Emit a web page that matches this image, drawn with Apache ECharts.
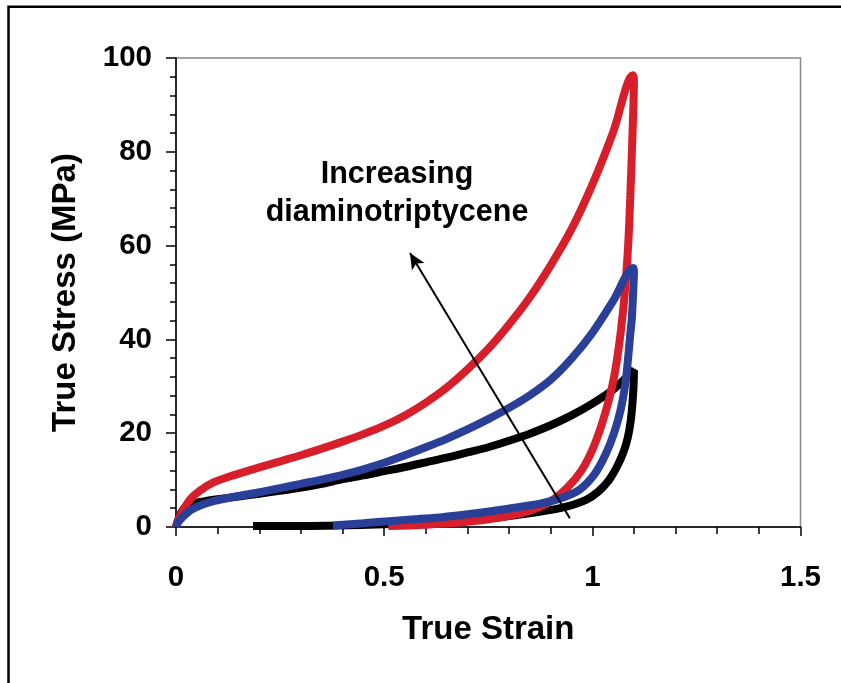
<!DOCTYPE html>
<html><head><meta charset="utf-8">
<script src="https://cdn.jsdelivr.net/npm/echarts@6/dist/echarts.min.js"></script>
<style>html,body{margin:0;padding:0;background:#fff}#c{width:841px;height:683px}</style>
</head><body><div id="c"></div>
<script>
// Tick values
var xTicks = [0, 0.5, 1, 1.5];
var yTicks = [0, 20, 40, 60, 80, 100];

// Red curve (highest diaminotriptycene): loading then unloading
var redCurve = [
  [0,0],[0.005,1.5],[0.017,3.6],[0.035,6],[0.058,7.8],[0.09,9.5],[0.137,11],[0.2,12.7],[0.25,14.0],
  [0.3,15.3],[0.35,16.7],[0.4,18.2],[0.45,19.8],[0.5,21.6],[0.55,23.8],[0.6,26.5],[0.65,29.7],
  [0.7,33.6],[0.75,38],[0.8,43.2],[0.85,49],[0.9,55.8],[0.95,63.5],[1.0,73],[1.05,84.2],[1.097,96.3],
  [1.1,95.5],[1.098,88],[1.095,80],[1.091,70],[1.086,60],[1.078,50],[1.066,40],[1.05,31],[1.03,24],
  [1.005,17.5],[0.975,12.2],[0.94,8.4],[0.898,5.4],[0.84,3.2],[0.778,2.0],[0.7,1.1],[0.6,0.5],[0.51,0.2]
];
// Blue curve (intermediate)
var blueCurve = [
  [0,0],[0.005,1],[0.017,2.2],[0.035,3.6],[0.058,4.6],[0.09,5.5],[0.137,6.4],[0.2,7.4],[0.25,8.3],
  [0.3,9.2],[0.35,10.1],[0.4,11.1],[0.45,12.3],[0.5,13.7],[0.55,15.3],[0.6,17.0],[0.65,18.8],
  [0.7,20.8],[0.75,23.0],[0.8,25.4],[0.85,28.1],[0.9,31.4],[0.95,35.9],[1.0,41.4],[1.05,48.2],[1.098,55.2],
  [1.1,54.5],[1.098,50],[1.095,44.7],[1.091,41],[1.087,37],[1.08,31],[1.068,25],[1.052,20],[1.032,15.5],
  [1.005,11.2],[0.97,8],[0.93,6.3],[0.88,5.1],[0.82,4.2],[0.76,3.4],[0.7,2.7],[0.64,2.1],[0.58,1.7],
  [0.52,1.3],[0.45,0.8],[0.377,0.3]
];
// Black curve (no diaminotriptycene)
var blackCurve = [
  [0,0],[0.005,1.5],[0.012,3],[0.022,4.2],[0.04,5.0],[0.07,5.5],[0.1,5.9],[0.15,6.5],[0.2,7.1],
  [0.25,7.7],[0.3,8.4],[0.35,9.2],[0.4,10.2],[0.45,11.0],[0.5,11.9],[0.55,12.8],[0.6,13.8],[0.65,14.8],
  [0.7,15.9],[0.75,17.0],[0.8,18.4],[0.85,19.9],[0.9,21.7],[0.95,23.8],[1.0,26.3],[1.05,29.3],[1.097,33.2],
  [1.1,33.4],[1.099,30],[1.096,26],[1.092,22.5],[1.085,19],[1.075,16],[1.06,13],[1.04,10],[1.015,7.6],
  [0.985,5.8],[0.94,4.4],[0.898,3.6],[0.84,2.8],[0.778,2.1],[0.7,1.5],[0.6,1.0],[0.5,0.6],[0.386,0.3],
  [0.3,0.2],[0.185,0.2]
];
// Annotation arrow (tail, head) in data coordinates
var arrowTail = [0.946, 1.85];
var arrowHead = [0.562, 58.4];
var annotationText = 'Increasing\ndiaminotriptycene';

var FONT = '"Liberation Sans", Arial, sans-serif';
var chart = echarts.init(document.getElementById('c'), null, {renderer:'canvas'});
function curve(name, data, color) {
  return {
    name: name, type: 'line', data: data, showSymbol: false, smooth: 0.3,
    lineStyle: {color: color, width: 8}, itemStyle: {color: color},
    animation: false, silent: true, z: 2
  };
}
chart.setOption({
  animation: false,
  backgroundColor: '#fff',
  grid: {left: 176, top: 58, right: 40.5, bottom: 156, show: true, borderColor: '#888', borderWidth: 1.5, backgroundColor: 'transparent'},
  xAxis: {
    type: 'value', min: xTicks[0], max: xTicks[xTicks.length-1], interval: 0.5,
    name: 'True Strain', nameLocation: 'middle', nameGap: 86,
    nameTextStyle: {fontFamily: FONT, fontWeight: 'bold', fontSize: 33, color: '#000'},
    axisLine: {show: true, onZero: false, lineStyle: {color: '#000', width: 1.5}},
    axisTick: {show: true, length: 9, lineStyle: {color: '#000', width: 1.5}},
    minorTick: {show: true, splitNumber: 5, length: 7, lineStyle: {color: '#000', width: 1.5}},
    axisLabel: {margin: 36, fontFamily: FONT, fontWeight: 'bold', fontSize: 29.5, color: '#000'},
    splitLine: {show: false}
  },
  yAxis: {
    type: 'value', min: yTicks[0], max: yTicks[yTicks.length-1], interval: 20,
    name: 'True Stress (MPa)', nameLocation: 'middle', nameGap: 94, nameRotate: 90,
    nameTextStyle: {fontFamily: FONT, fontWeight: 'bold', fontSize: 33, color: '#000'},
    axisLine: {show: true, onZero: false, lineStyle: {color: '#000', width: 1.5}},
    axisTick: {show: true, length: 10, lineStyle: {color: '#000', width: 1.5}},
    minorTick: {show: true, splitNumber: 5, length: 6, lineStyle: {color: '#000', width: 1.5}},
    axisLabel: {margin: 24, fontFamily: FONT, fontWeight: 'bold', fontSize: 29.5, color: '#000'},
    splitLine: {show: false}
  },
  series: [
    curve('black', blackCurve, '#000000'),
    curve('red', redCurve, '#d71f2b'),
    curve('blue', blueCurve, '#2a3f98'),
    {
      type: 'line', data: [], silent: true,
      markLine: {
        silent: true, symbol: ['none', 'arrow'], symbolSize: [11, 16],
        label: {show: false},
        lineStyle: {color: '#000', width: 2, type: 'solid'},
        data: [[{coord: arrowTail}, {coord: arrowHead}]]
      },
      z: 5
    }
  ],
  graphic: [
    {type: 'rect', shape: {x: 8.5, y: 6.8, width: 900, height: 800}, style: {fill: null, stroke: '#000', lineWidth: 2.5}, silent: true},
    {type: 'text', x: 397, y: 194, style: {text: annotationText, fontFamily: FONT, fontWeight: 'bold', fontSize: 30.5, lineHeight: 38, textAlign: 'center', textVerticalAlign: 'middle', fill: '#000'}, z: 10}
  ]
});
</script></body></html>
